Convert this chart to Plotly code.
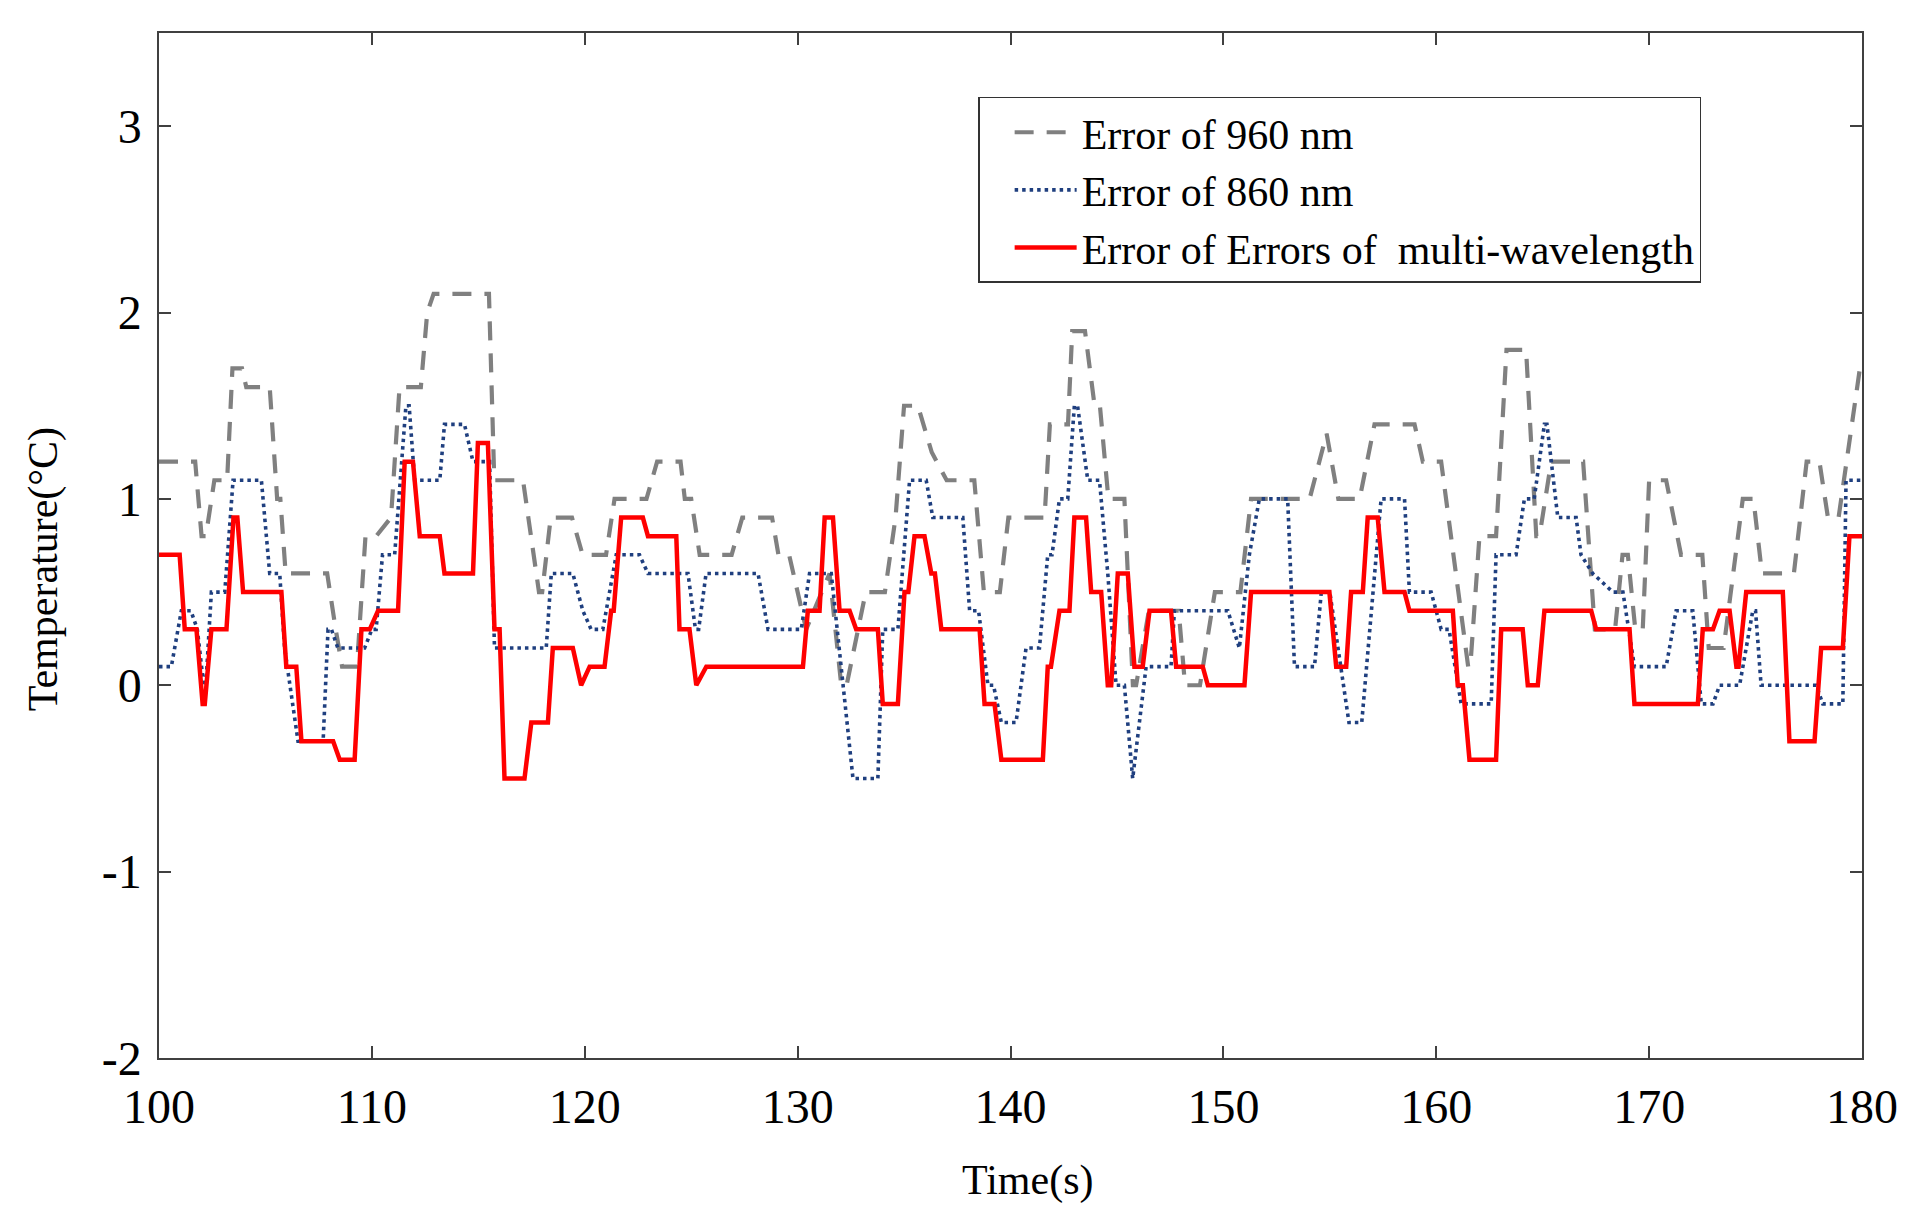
import plotly.graph_objects as go

# ---- data (time in s, temperature error in °C) ----
t_960 = [100.0, 101.7, 102.0, 102.2, 102.6, 103.2, 103.45, 103.9, 104.1, 105.2, 105.55, 105.7, 105.95,
         107.9, 108.3, 108.6, 109.3, 109.7, 110.2, 110.9, 111.3, 112.3, 112.6, 112.9, 115.5, 115.75,
         117.1, 117.85, 118.0, 118.4, 119.4, 119.9, 121.0, 121.4, 122.9, 123.4, 124.5, 124.7, 125.0,
         125.4, 126.9, 127.4, 128.8, 129.1, 129.6, 130.4, 131.5, 132.05, 132.3, 133.2, 134.1, 134.6,
         135.0, 135.65, 136.3, 137.0, 138.3, 138.75, 139.5, 139.9, 141.6, 141.85, 142.7, 142.9, 143.5,
         143.95, 144.2, 144.6, 145.35, 145.75, 145.9, 146.5, 147.9, 148.2, 148.9, 149.6, 150.8, 151.3,
         154.05, 154.85, 155.4, 156.4, 157.1, 158.98, 159.37, 160.23, 161.5, 161.6, 162.03, 162.81,
         163.3, 164.22, 164.7, 164.85, 165.4, 166.9, 167.45, 168.4, 168.75, 169.0, 169.35, 169.7,
         170.0, 170.8, 171.5, 172.5, 172.8, 173.5, 174.4, 174.9, 175.3, 176.8, 177.4, 178.0, 178.4,
         178.9, 179.9, 180.0]
v_960 = [1.2, 1.2, 0.8, 0.8, 1.1, 1.1, 1.7, 1.7, 1.6, 1.6, 1.0, 1.0, 0.6,
         0.6, 0.3, 0.1, 0.1, 0.8, 0.8, 0.9, 1.6, 1.6, 2.0, 2.1, 2.1, 1.1,
         1.1, 0.5, 0.5, 0.9, 0.9, 0.7, 0.7, 1.0, 1.0, 1.2, 1.2, 1.0, 1.0,
         0.7, 0.7, 0.9, 0.9, 0.7, 0.7, 0.3, 0.6, 0.0, 0.0, 0.5, 0.5, 0.9,
         1.5, 1.5, 1.25, 1.1, 1.1, 0.5, 0.5, 0.9, 0.9, 1.4, 1.4, 1.9, 1.9,
         1.5, 1.5, 1.0, 1.0, 0.0, 0.0, 0.4, 0.4, 0.0, 0.0, 0.5, 0.5, 1.0,
         1.0, 1.35, 1.0, 1.0, 1.4, 1.4, 1.2, 1.2, 0.1, 0.1, 0.8, 0.8,
         1.8, 1.8, 0.8, 0.8, 1.2, 1.2, 0.3, 0.3, 0.7, 0.7, 0.3, 0.3,
         1.1, 1.1, 0.7, 0.7, 0.2, 0.2, 1.0, 1.0, 0.6, 0.6, 1.2, 1.2, 0.9,
         0.9, 1.7, 1.7]

t_860 = [100.0, 100.58, 101.05, 101.5, 101.8, 102.1, 102.2, 102.46, 103.09, 103.48, 104.81, 105.2,
         105.67, 105.9, 106.53, 107.71, 107.94, 108.1, 108.4, 109.66, 110.0, 110.2, 110.5, 111.07,
         111.6, 111.75, 112.01, 113.19, 113.41, 114.35, 114.75, 115.53, 115.76, 118.19, 118.43,
         119.44, 119.91, 120.3, 120.85, 121.48, 122.57, 122.97, 124.85, 125.2, 125.35, 125.7,
         128.14, 128.61, 130.17, 130.56, 131.58, 132.13, 132.6, 133.77, 134.0, 134.71, 135.26,
         136.04, 136.35, 137.76, 138.08, 138.5, 138.94, 139.2, 139.57, 140.26, 140.73, 141.36,
         141.75, 141.95, 142.3, 142.69, 143.0, 143.15, 143.63, 144.18, 144.57, 144.96, 145.35,
         145.74, 146.37, 147.54, 147.7, 150.21, 150.75, 151.22, 151.69, 153.02, 153.34, 154.28,
         154.6, 155.0, 155.9, 156.5, 157.41, 158.51, 158.74, 159.76, 160.23, 160.6, 161.17, 162.58,
         162.81, 163.75, 164.14, 164.6, 165.08, 165.2, 165.71, 166.57, 166.8, 167.35, 168.3, 168.77,
         169.31, 170.8, 171.27, 172.05, 172.45, 173.0, 173.31, 174.25, 174.87, 175.0, 175.26,
         177.85, 178.16, 179.1, 179.25, 180.0]
v_860 = [0.1, 0.1, 0.4, 0.4, 0.3, 0.0, 0.0, 0.5, 0.5, 1.1, 1.1, 0.6,
         0.6, 0.2, -0.3, -0.3, 0.3, 0.3, 0.2, 0.2, 0.3, 0.3, 0.7, 0.7,
         1.5, 1.5, 1.1, 1.1, 1.4, 1.4, 1.2, 1.2, 0.2, 0.2, 0.6,
         0.6, 0.4, 0.3, 0.3, 0.7, 0.7, 0.6, 0.6, 0.3, 0.3, 0.6,
         0.6, 0.3, 0.3, 0.6, 0.6, 0.0, -0.5, -0.5, 0.3, 0.3, 1.1,
         1.1, 0.9, 0.9, 0.4, 0.4, 0.0, 0.0, -0.2, -0.2, 0.2, 0.2,
         0.7, 0.7, 1.0, 1.0, 1.5, 1.5, 1.1, 1.1, 0.6, 0.0, 0.0,
         -0.5, 0.1, 0.1, 0.4, 0.4, 0.2, 0.7, 1.0, 1.0, 0.1, 0.1,
         0.5, 0.5, -0.2, -0.2, 1.0, 1.0, 0.5, 0.5, 0.3, 0.3, -0.1, -0.1,
         0.7, 0.7, 1.0, 1.0, 1.4, 1.4, 0.9, 0.9, 0.7, 0.6, 0.5, 0.5,
         0.1, 0.1, 0.4, 0.4, -0.1, -0.1, 0.0, 0.0, 0.4, 0.4, 0.0,
         0.0, -0.1, -0.1, 1.1, 1.1]

t_multi = [100.0, 100.97, 101.21, 101.76, 102.05, 102.15, 102.46, 103.17, 103.5, 103.68, 103.95, 105.75,
           105.98, 106.45, 106.69, 108.18, 108.49, 109.19, 109.51, 109.9, 110.29, 111.23, 111.54,
           111.93, 112.25, 113.19, 113.41, 114.75, 114.98, 115.45, 115.76, 116.0, 116.23, 117.17,
           117.49, 118.27, 118.5, 119.44, 119.83, 120.23, 120.93, 121.24, 121.36, 121.71, 122.73,
           122.97, 124.3, 124.45, 124.92, 125.24, 125.71, 130.25, 130.48, 131.03, 131.27, 131.66,
           131.97, 132.44, 132.75, 133.77, 134.0, 134.71, 135.02, 135.2, 135.49, 135.96, 136.28,
           136.45, 136.75, 138.55, 138.78, 139.25, 139.57, 141.52, 141.75, 141.9, 142.3, 142.77,
           143.0, 143.55, 143.79, 144.26, 144.57, 144.73, 145.04, 145.51, 145.82, 146.21, 146.53,
           147.54, 147.78, 149.03, 149.27, 150.99, 151.3, 154.98, 155.3, 155.77, 156.0, 156.55,
           156.78, 157.25, 157.57, 158.51, 158.74, 160.78, 161.01, 161.25, 161.56, 162.81, 163.05,
           164.06, 164.3, 164.77, 165.08, 167.28, 167.51, 169.08, 169.31, 172.29, 172.52, 173.0,
           173.31, 173.78, 174.1, 174.2, 174.56, 176.28, 176.59, 177.77, 178.08, 179.1, 179.41, 180.0]
v_multi = [0.7, 0.7, 0.3, 0.3, -0.1, -0.1, 0.3, 0.3, 0.9, 0.9, 0.5, 0.5,
           0.1, 0.1, -0.3, -0.3, -0.4, -0.4, 0.3, 0.3, 0.4, 0.4, 1.2,
           1.2, 0.8, 0.8, 0.6, 0.6, 1.3, 1.3, 0.3, 0.3, -0.5, -0.5,
           -0.2, -0.2, 0.2, 0.2, 0.0, 0.1, 0.1, 0.4, 0.4, 0.9, 0.9,
           0.8, 0.8, 0.3, 0.3, 0.0, 0.1, 0.1, 0.4, 0.4, 0.9, 0.9,
           0.4, 0.4, 0.3, 0.3, -0.1, -0.1, 0.5, 0.5, 0.8, 0.8, 0.6,
           0.6, 0.3, 0.3, -0.1, -0.1, -0.4, -0.4, 0.1, 0.1, 0.4, 0.4,
           0.9, 0.9, 0.5, 0.5, 0.0, 0.0, 0.6, 0.6, 0.1, 0.1, 0.4,
           0.4, 0.1, 0.1, 0.0, 0.0, 0.5, 0.5, 0.1, 0.1, 0.5, 0.5,
           0.9, 0.9, 0.5, 0.5, 0.4, 0.4, 0.0, 0.0, -0.4, -0.4, 0.3,
           0.3, 0.0, 0.0, 0.4, 0.4, 0.3, 0.3, -0.1, -0.1, 0.3, 0.3,
           0.4, 0.4, 0.1, 0.1, 0.5, 0.5, -0.3, -0.3, 0.2, 0.2, 0.8, 0.8]

x_ticks = [100, 110, 120, 130, 140, 150, 160, 170, 180]
x_tick_text = ["100", "110", "120", "130", "140", "150", "160", "170", "180"]
y_ticks = [-2, -1, 0, 1, 2, 3]
y_tick_text = ["-2", "-1", "0", "1", "2", "3"]

names = ["Error of 960 nm", "Error of 860 nm", "Error of Errors of  multi-wavelength"]
x_title = "Time(s)"
y_title = "Temperature(°C)"

FONT = "Liberation Serif, Times New Roman, serif"

fig = go.Figure()
fig.add_trace(go.Scatter(x=t_960, y=v_960, mode="lines", name=names[0],
                         line=dict(color="#808080", width=4.2, dash="19px,13px")))
fig.add_trace(go.Scatter(x=t_860, y=v_860, mode="lines", name=names[1],
                         line=dict(color="#1F3F7F", width=3.6, dash="3.5px,4px")))
fig.add_trace(go.Scatter(x=t_multi, y=v_multi, mode="lines", name=names[2],
                         line=dict(color="#FF0000", width=4.5)))

axis_common = dict(
    showgrid=False, zeroline=False, showline=True, linecolor="#404040", linewidth=1.5,
    mirror="ticks", ticks="inside", ticklen=12, tickwidth=1.5, tickcolor="#404040",
    tickfont=dict(family=FONT, size=48, color="black"),
)

fig.update_layout(
    width=1917, height=1222,
    paper_bgcolor="white", plot_bgcolor="white",
    margin=dict(l=151, r=63, t=25, b=172),
    font=dict(family=FONT, color="black"),
    showlegend=True,
    legend=dict(x=0.481, y=0.9376, xanchor="left", yanchor="top",
                bgcolor="white", bordercolor="#333333", borderwidth=1.5,
                font=dict(family=FONT, size=42, color="black"),
                indentation=30, itemwidth=62, tracegroupgap=0),
    xaxis=dict(range=[100, 180], tickvals=x_ticks, ticktext=x_tick_text, ticklabelstandoff=6,
               **axis_common),
    yaxis=dict(range=[-2, 3.5], tickvals=y_ticks, ticktext=y_tick_text, ticklabelstandoff=6,
               **axis_common),
    annotations=[
        dict(text=x_title, xref="paper", yref="paper", x=0.5097, y=0, yshift=-122,
             xanchor="center", yanchor="middle", showarrow=False,
             font=dict(family=FONT, size=42, color="black")),
        dict(text=y_title, xref="paper", yref="paper", x=-0.068, y=0.477, textangle=-90,
             xanchor="center", yanchor="middle", showarrow=False,
             font=dict(family=FONT, size=42, color="black")),
    ],
)

fig.write_html("out.html")
